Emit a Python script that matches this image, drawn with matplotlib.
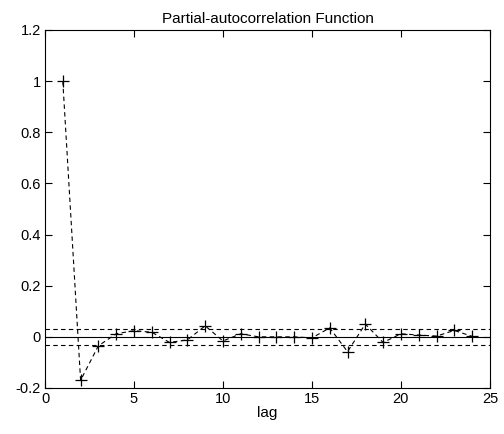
import matplotlib
matplotlib.use("Agg")
import matplotlib.pyplot as plt

# partial autocorrelation values
lags = list(range(1, 25))
pacf = [1.0, -0.17, -0.035, 0.012, 0.024, 0.018, -0.022, -0.012, 0.043, -0.016,
        0.012, 0.0, 0.0, 0.0, -0.004, 0.035, -0.058, 0.05, -0.022, 0.012,
        0.007, 0.003, 0.025, 0.002]
bound = 0.031
xlim = [0, 25]
ylim = [-0.2, 1.2]
xticks = [0, 5, 10, 15, 20, 25]
yticks = [-0.2, 0, 0.2, 0.4, 0.6, 0.8, 1, 1.2]

plt.rcParams['font.family'] = ['Liberation Sans', 'DejaVu Sans']
plt.rcParams['font.size'] = 10

fig = plt.figure(figsize=(5.04, 4.34), dpi=100)
ax = fig.add_axes([0.0893, 0.106, 0.8827, 0.825])

ax.plot(lags, pacf, color='black', linestyle='--', dashes=(4, 3), linewidth=0.8,
        marker='+', markersize=8, markeredgewidth=0.9)
ax.plot(xlim, [0, 0], color='black', linewidth=0.8)
ax.plot(xlim, [bound, bound], color='black', linestyle='--', dashes=(4, 3), linewidth=0.8)
ax.plot(xlim, [-bound, -bound], color='black', linestyle='--', dashes=(4, 3), linewidth=0.8)

ax.set_xlim(xlim)
ax.set_ylim(ylim)
ax.set_xticks(xticks)
ax.set_yticks(yticks)
ax.set_yticklabels(['-0.2', '0', '0.2', '0.4', '0.6', '0.8', '1', '1.2'])
ax.tick_params(direction='in', top=True, right=True, length=5, width=0.8,
               labelsize=10.5, pad=3)
for s in ax.spines.values():
    s.set_linewidth(0.8)

ax.set_title('Partial-autocorrelation Function', fontsize=11, pad=5)
ax.set_xlabel('lag', fontsize=11, labelpad=0)

fig.savefig('out.png', dpi=100)
